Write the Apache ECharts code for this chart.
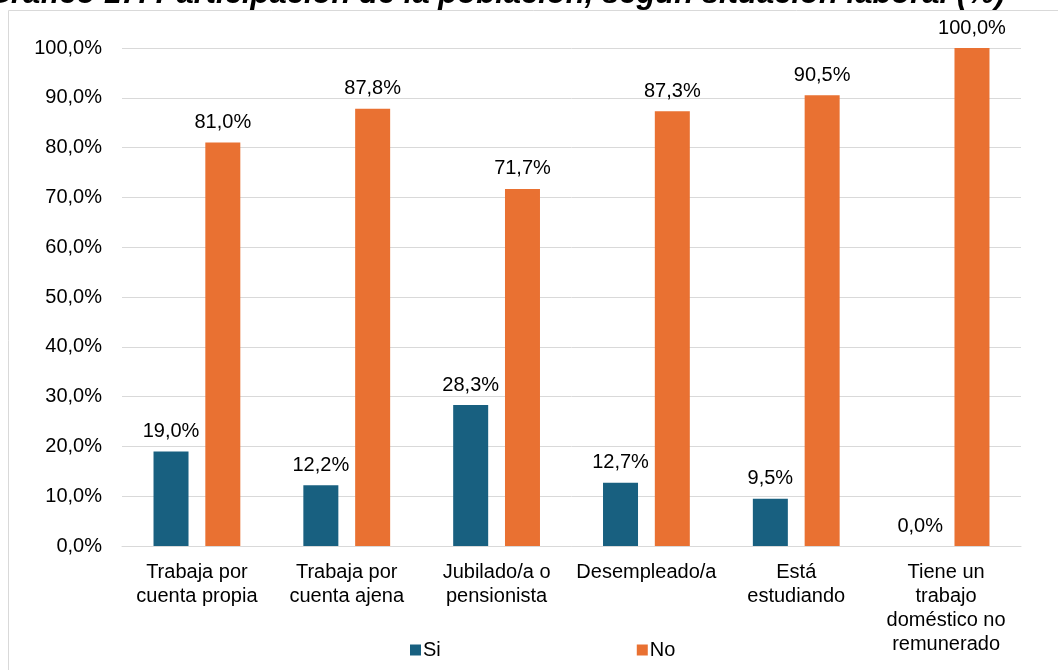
<!DOCTYPE html>
<html>
<head>
<meta charset="utf-8">
<script src="https://cdn.jsdelivr.net/npm/echarts@6/dist/echarts.min.js"></script>
<style>
html,body{margin:0;padding:0;background:#fff;}
#chart{width:1058px;height:670px;}
</style>
</head>
<body>
<div id="chart"></div>
<script>
const titleText = 'Gráfico 17. Participación de la población, según situación laboral (%)';
const categories = [
  'Trabaja por\ncuenta propia',
  'Trabaja por\ncuenta ajena',
  'Jubilado/a o\npensionista',
  'Desempleado/a',
  'Está\nestudiando',
  'Tiene un\ntrabajo\ndoméstico no\nremunerado'
];
const seriesNames = ['Si', 'No'];
const siValues = [19.0, 12.2, 28.3, 12.7, 9.5, 0.0];
const noValues = [81.0, 87.8, 71.7, 87.3, 90.5, 100.0];
const yTicks = [0, 10, 20, 30, 40, 50, 60, 70, 80, 90, 100];

const fmt = v => v.toFixed(1).replace('.', ',') + '%';
const FONT = 'Liberation Sans, Arial, sans-serif';

const chart = echarts.init(document.getElementById('chart'));
chart.setOption({
  animation: false,
  textStyle: {fontFamily: FONT},
  graphic: [
    {type: 'rect', shape: {x: 8.5, y: 10.5, width: 1100, height: 700},
     style: {fill: 'none', stroke: '#d9d9d9', lineWidth: 1}, silent: true, z: 0},
    {type: 'text', x: 1005, y: 10, z: 10,
     style: {text: titleText, textAlign: 'right', textVerticalAlign: 'bottom',
       font: 'italic bold 31px Liberation Sans, Arial, sans-serif', fill: '#000'}}
  ],
  grid: {left: 122, right: 37, top: 48, bottom: 124},
  legend: {
    data: seriesNames, left: 405, top: 635, itemWidth: 11, itemHeight: 11, itemGap: 196,
    icon: 'rect', textStyle: {fontSize: 20, color: '#000', fontFamily: FONT, padding: [0,0,0,-3]}
  },
  xAxis: {
    type: 'category', data: categories,
    axisLine: {show: true, lineStyle: {color: '#d9d9d9', width: 1}},
    axisTick: {show: false},
    axisLabel: {interval: 0, fontSize: 20, lineHeight: 24, color: '#000', margin: 14, fontFamily: FONT}
  },
  yAxis: {
    type: 'value', min: yTicks[0], max: yTicks[yTicks.length - 1], interval: 10,
    axisLine: {show: false}, axisTick: {show: false},
    splitLine: {lineStyle: {color: '#d9d9d9', width: 1}},
    axisLabel: {formatter: v => fmt(v), fontSize: 20, color: '#000', margin: 20, fontFamily: FONT}
  },
  series: [
    {name: seriesNames[0], type: 'bar', data: siValues, barWidth: 35, barGap: '48%',
     itemStyle: {color: '#186080'},
     label: {show: true, position: 'top', distance: 10, formatter: p => fmt(p.value), fontSize: 20, color: '#000', fontFamily: FONT}},
    {name: seriesNames[1], type: 'bar', data: noValues, barWidth: 35, barGap: '48%',
     itemStyle: {color: '#E97132'},
     label: {show: true, position: 'top', distance: 10, formatter: p => fmt(p.value), fontSize: 20, color: '#000', fontFamily: FONT}}
  ]
});
</script>
</body>
</html>
